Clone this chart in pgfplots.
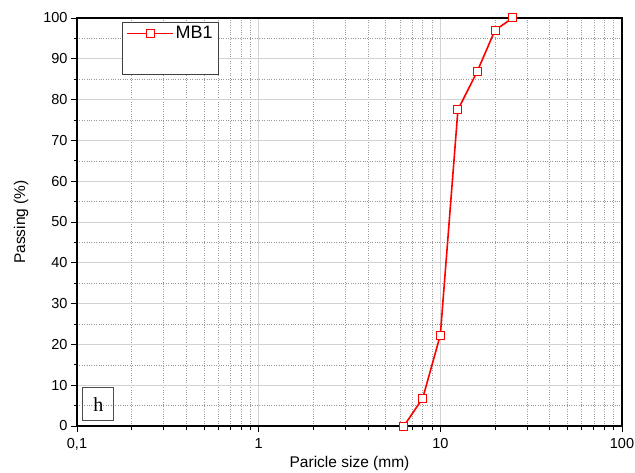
\documentclass[border=0pt]{standalone}
\usepackage{pgfplots}
\pgfplotsset{compat=1.18}
\usepackage{fontspec}
\setmainfont{Liberation Sans}
\newfontfamily\seriffont{Liberation Serif}
\begin{document}
\begin{tikzpicture}
\begin{axis}[
  xmode=log, log basis x=10,
  width=545pt, height=408pt, scale only axis,
  xmin=0.1, xmax=100, ymin=0, ymax=100,
  xtick={0.1,1,10,100}, xticklabels={{0,1},1,10,100},
  minor xtick={0.2,0.3,0.4,0.5,0.6,0.7,0.8,0.9,2,3,4,5,6,7,8,9,20,30,40,50,60,70,80,90},
  ytick={0,10,...,100}, minor ytick={5,15,...,95},
  /pgf/number format/assume math mode=true,
  tick align=outside, xtick pos=bottom, ytick pos=left,
  major tick length=6pt, minor tick length=3.5pt,
  every tick/.style={black, line width=0.9pt},
  axis line style={black, line width=1.2pt},
  grid=both,
  major grid style={gray!35, line width=1pt, solid},
  minor grid style={gray!80, dotted, line width=0.6pt},
  ticklabel style={font=\fontsize{14.5}{16}\selectfont},
  xticklabel style={yshift=-3pt},
  label style={font=\fontsize{15.5}{17}\selectfont},
  xlabel={Paricle size (mm)}, ylabel={Passing (\%)},
  xlabel style={yshift=1pt}, ylabel style={yshift=8pt},
  legend style={at={(0.083,0.99)}, anchor=north west, draw=black!75, line width=0.8pt,
    font=\fontsize{18}{20}\selectfont, inner xsep=4pt, inner ysep=2pt, row sep=11pt},
  legend cell align=left,
  legend image code/.code={\draw[red, line width=1.4pt, mark repeat=2,mark phase=2] plot coordinates {(0cm,0cm)(0.8cm,0cm)(1.6cm,0cm)};},
]
\addplot[red, line width=1.6pt, mark=square*, mark size=4pt, mark options={fill=white, draw=red, line width=1pt}]
  coordinates {(6.3,0) (8,6.8) (10,22.3) (12.5,77.5) (16,87) (20,97) (25,100)};
\addlegendentry{MB1}
\addlegendimage{empty legend}\addlegendentry{\strut}
\node[draw=black!70, line width=0.8pt, minimum width=31pt, minimum height=33pt, inner sep=0pt,
  font=\seriffont\fontsize{20}{22}\selectfont] at (axis cs:0.131,5.3) {h};
\end{axis}
\pgfresetboundingbox
\useasboundingbox ([xshift=-77pt,yshift=-46pt]current axis.south west) rectangle ([xshift=13pt,yshift=18pt]current axis.north east);
\end{tikzpicture}
\end{document}
